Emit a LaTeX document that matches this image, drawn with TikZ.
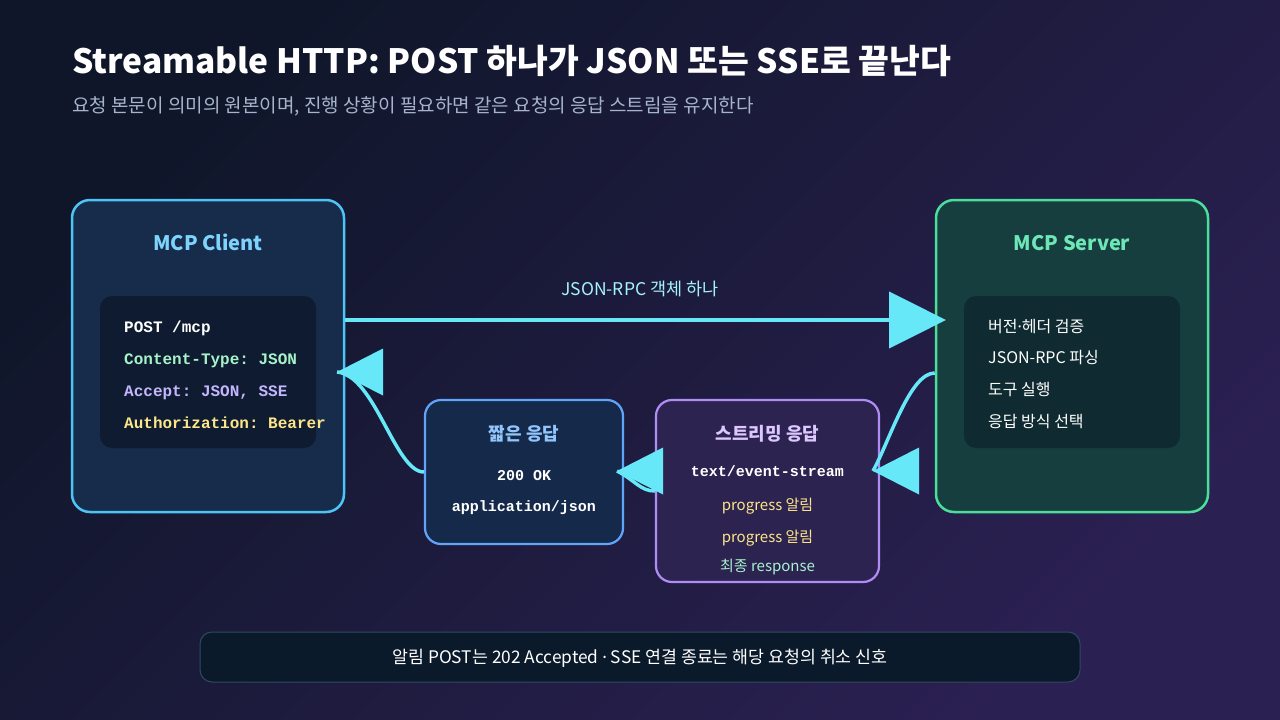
\documentclass[tikz,border=0pt]{standalone}
\usepackage{fontspec}
\setmainfont{Noto Sans CJK KR}
\setmonofont{Liberation Mono}
\newfontfamily\latinfont{Noto Sans}
\newcommand{\mdot}{{\latinfont ·}}
\usetikzlibrary{arrows.meta,calc}
\definecolor{bgA}{HTML}{0F1629}
\definecolor{bgB}{HTML}{2B2052}
\definecolor{clientF}{HTML}{172C4A}
\definecolor{clientB}{HTML}{4CC4F5}
\definecolor{clientT}{HTML}{7DD3FC}
\definecolor{clientI}{HTML}{0E1B30}
\definecolor{serverF}{HTML}{173E3E}
\definecolor{serverB}{HTML}{4ADE9A}
\definecolor{serverT}{HTML}{6EE7B7}
\definecolor{serverI}{HTML}{0F2B31}
\definecolor{shortF}{HTML}{152A4A}
\definecolor{shortB}{HTML}{60A5FA}
\definecolor{shortT}{HTML}{93C5FD}
\definecolor{streamF}{HTML}{2D2350}
\definecolor{streamB}{HTML}{B08CF5}
\definecolor{streamT}{HTML}{DCC8FE}
\definecolor{arrowC}{HTML}{67E8F9}
\definecolor{labelC}{HTML}{A5F3FC}
\definecolor{yel}{HTML}{FDE68A}
\definecolor{mint}{HTML}{A7F3D0}
\definecolor{grn}{HTML}{A7F3C8}
\definecolor{lav}{HTML}{C4B5FD}
\definecolor{subC}{HTML}{A6B4CC}
\definecolor{noteF}{HTML}{0B1A2B}
\definecolor{noteB}{HTML}{2E4A63}
\begin{document}
\begin{tikzpicture}[x=1pt,y=-1pt,
  box/.style={draw, line width=2.5pt, rounded corners=18pt, inner sep=0pt},
  innerbox/.style={rounded corners=12pt, inner sep=0pt},
  txt/.style={inner sep=0pt, text=white},
  mono/.style={txt, font=\fontsize{16}{19}\selectfont\ttfamily\bfseries},
  monos/.style={txt, font=\fontsize{15}{18}\selectfont\ttfamily\bfseries},
  sans/.style={txt, font=\fontsize{16}{19}\selectfont},
  btitle/.style={txt, font=\fontsize{20}{24}\selectfont\bfseries},
  stitle/.style={txt, font=\fontsize{18}{22}\selectfont\bfseries},
  conn/.style={line width=3.5pt, draw=arrowC},
  tipleft/.pic={\fill[arrowC] (0,0) -- (46,-23.5) -- (46,23.5) -- cycle;}
]
\useasboundingbox (0,0) rectangle (1280,720);
\shade[top color=bgA, bottom color=bgB, shading angle=45] (0,0) rectangle (1280,720);

% title
\node[txt, anchor=base west, font=\fontsize{33.5}{40}\selectfont\bfseries] (title) at (72,73) {Streamable HTTP: POST 하나가 JSON 또는 SSE로 끝난다};
\node[txt, anchor=base west, text=subC, font=\fontsize{19}{23}\selectfont] (subtitle) at (72,112) {요청 본문이 의미의 원본이며, 진행 상황이 필요하면 같은 요청의 응답 스트림을 유지한다};

% client
\node[box, draw=clientB, fill=clientF, minimum width=272pt, minimum height=312pt] (client) at (208,356) {};
\node[innerbox, fill=clientI, minimum width=216pt, minimum height=152pt] (clientIn) at (208,372) {};
\node[btitle, anchor=base, text=clientT] (clientTitle) at (208,250) {MCP Client};
\node[mono, anchor=base west] (c1) at (124,332) {POST /mcp};
\node[mono, anchor=base west, text=grn] (c2) at (124,364) {Content-Type: JSON};
\node[mono, anchor=base west, text=lav] (c3) at (124,396) {Accept: JSON, SSE};
\node[mono, anchor=base west, text=yel] (c4) at (124,428) {Authorization: Bearer};

% server
\node[box, draw=serverB, fill=serverF, minimum width=272pt, minimum height=312pt] (server) at (1072,356) {};
\node[innerbox, fill=serverI, minimum width=216pt, minimum height=152pt] (serverIn) at (1072,372) {};
\node[btitle, anchor=base, text=serverT] (serverTitle) at (1072,250) {MCP Server};
\node[sans, anchor=base west] (s1) at (988,332) {버전\mdot 헤더 검증};
\node[sans, anchor=base west] (s2) at (988,363) {JSON-RPC 파싱};
\node[sans, anchor=base west] (s3) at (988,395) {도구 실행};
\node[sans, anchor=base west] (s4) at (988,427) {응답 방식 선택};

% short response
\node[box, line width=2.2pt, rounded corners=16pt, draw=shortB, fill=shortF, minimum width=198pt, minimum height=144pt] (short) at (524,472) {};
\node[stitle, anchor=base, text=shortT] (shortTitle) at (524,440) {짧은 응답};
\node[monos, anchor=base] (sh1) at (524,480) {200 OK};
\node[monos, anchor=base] (sh2) at (524,511) {application/json};

% streaming response
\node[box, line width=2.2pt, rounded corners=16pt, draw=streamB, fill=streamF, minimum width=223pt, minimum height=182pt] (stream) at (767.5,491) {};
\node[stitle, anchor=base, text=streamT] (streamTitle) at (767.5,440) {스트리밍 응답};
\node[monos, anchor=base] (st1) at (767.5,476) {text/event-stream};
\node[sans, anchor=base, text=yel, font=\fontsize{15}{18}\selectfont] (st2) at (767.5,510) {progress 알림};
\node[sans, anchor=base, text=yel, font=\fontsize{15}{18}\selectfont] (st3) at (767.5,542) {progress 알림};
\node[sans, anchor=base, text=mint, font=\fontsize{15}{18}\selectfont] (st4) at (767.5,571) {최종 response};

% request arrow
\coordinate (reqTip) at (946,320);
\draw[conn, line width=4.5pt, -{Triangle[length=57pt,width=56pt]}] (client.east |- reqTip) -- (reqTip);
\node[sans, anchor=base, text=labelC, font=\fontsize{17.5}{21}\selectfont] (reqLabel) at (640,295) {JSON-RPC 객체 하나};

% server -> stream
\coordinate (tipA) at (873,471);
\draw[conn] ($(server.west)+(0,17)$) .. controls (910,373) and (890,440) .. (tipA);
\pic at (tipA) {tipleft};

% stream -> short
\coordinate (tipB) at (617,471);
\draw[conn] (stream.west) .. controls (640,491) and (635,480) .. (tipB);
\pic at (tipB) {tipleft};

% short -> client
\coordinate (tipC) at (337,372);
\draw[conn] (short.west) .. controls (395,472) and (375,375) .. (tipC);
\pic at (tipC) {tipleft};

% note
\node[draw=noteB, fill=noteF, line width=1pt, rounded corners=12pt, minimum width=880pt, minimum height=50pt, inner sep=0pt] (note) at (640,657) {};
\node[sans, anchor=base, font=\fontsize{17.3}{21}\selectfont] (noteText) at (640,663) {알림 POST는 202 Accepted \mdot{} SSE 연결 종료는 해당 요청의 취소 신호};
\end{tikzpicture}
\end{document}
